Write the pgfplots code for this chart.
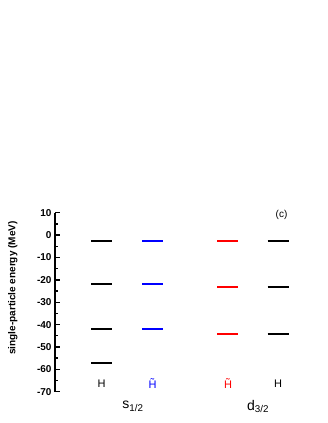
\documentclass[border=0pt]{standalone}
\usepackage{fontspec}
\setmainfont{Liberation Sans}
\usepackage{pgfplots}
\pgfplotsset{compat=1.18}
\definecolor{myblue}{RGB}{0,0,255}
\definecolor{myred}{RGB}{255,0,0}
\begin{document}
\begin{tikzpicture}[x=1pt,y=1pt]
\useasboundingbox (0,0) rectangle (327,423);
\begin{axis}[
  at={(55pt,31.3pt)}, anchor=south west,
  scale only axis, width=255pt, height=179pt,
  xmin=55, xmax=310, ymin=-70, ymax=10,
  axis x line=none, axis y line*=left,
  axis line style={line width=1.8pt},
  ytick={-70,-60,...,10}, minor y tick num=1,
  tick align=inside, major tick length=5pt, minor tick length=3pt,
  every tick/.style={line width=1.4pt, black},
  y tick label style={font=\bfseries\fontsize{10}{10}\selectfont, /pgf/number format/assume math mode=true},
  ylabel={single-particle energy (MeV)},
  ylabel style={font=\bfseries\fontsize{10}{10}\selectfont, at={(axis description cs:-0.165,0.579)}, anchor=center},
  clip=false,
]
% s1/2 H
\addplot[black, line width=1.7pt] coordinates {(91,-2.5) (112,-2.5)};
\addplot[black, line width=1.7pt] coordinates {(91,-21.9) (112,-21.9)};
\addplot[black, line width=1.7pt] coordinates {(91,-42) (112,-42)};
\addplot[black, line width=1.7pt] coordinates {(91,-57.3) (112,-57.3)};
% s1/2 H tilde
\addplot[myblue, line width=1.7pt] coordinates {(142,-2.5) (163,-2.5)};
\addplot[myblue, line width=1.7pt] coordinates {(142,-21.9) (163,-21.9)};
\addplot[myblue, line width=1.7pt] coordinates {(142,-42) (163,-42)};
% d3/2 H tilde
\addplot[myred, line width=1.7pt] coordinates {(217.3,-2.5) (238.3,-2.5)};
\addplot[myred, line width=1.7pt] coordinates {(217.3,-23.2) (238.3,-23.2)};
\addplot[myred, line width=1.7pt] coordinates {(217.3,-44.2) (238.3,-44.2)};
% d3/2 H
\addplot[black, line width=1.7pt] coordinates {(267.7,-2.5) (288.7,-2.5)};
\addplot[black, line width=1.7pt] coordinates {(267.7,-23.2) (288.7,-23.2)};
\addplot[black, line width=1.7pt] coordinates {(267.7,-44.2) (288.7,-44.2)};
\node[font=\fontsize{11}{11}\selectfont] at (axis cs:101.5,-66.4) {H};
\node[font=\fontsize{11}{11}\selectfont, text=myblue] at (axis cs:152.5,-66.4) {\~{H}};
\node[font=\fontsize{11}{11}\selectfont, text=myred] at (axis cs:228,-66.4) {\~{H}};
\node[font=\fontsize{11}{11}\selectfont] at (axis cs:278,-66.4) {H};
\node[font=\fontsize{14}{14}\selectfont] at (axis cs:133,-76.5) {s\textsubscript{1/2}};
\node[font=\fontsize{14}{14}\selectfont] at (axis cs:258,-76.5) {d\textsubscript{3/2}};
\node[font=\fontsize{10}{10}\selectfont] at (axis cs:281.5,9.2) {(c)};
\end{axis}
\end{tikzpicture}
\end{document}
